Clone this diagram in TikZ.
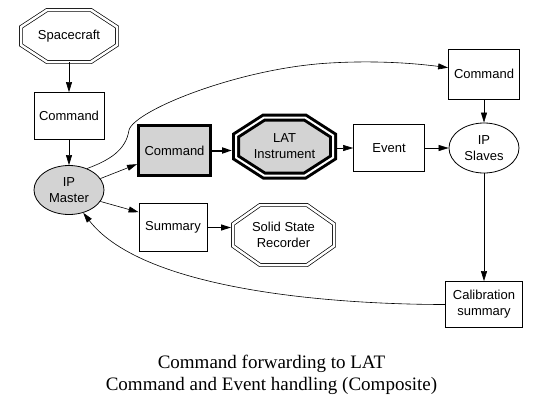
\documentclass[tikz,border=0pt]{standalone}
\usepackage{fontspec}
\setmainfont{Liberation Sans}
\newfontfamily\captionfont{Liberation Serif}
\usetikzlibrary{shapes.geometric,arrows.meta,backgrounds}
\definecolor{nodegray}{RGB}{211,211,211}

% octagon round a named node: style, node, corner cut x, corner cut y
\newcommand{\octdraw}[4]{%
  \draw[#1] ([xshift=#3]#2.north west) -- ([xshift=-#3]#2.north east)
    -- ([yshift=-#4]#2.north east) -- ([yshift=#4]#2.south east)
    -- ([xshift=-#3]#2.south east) -- ([xshift=#3]#2.south west)
    -- ([yshift=#4]#2.south west) -- ([yshift=-#4]#2.north west) -- cycle;}

\begin{document}
\begin{tikzpicture}[
        x=1pt, y=1pt,
        every node/.style={font=\fontsize{13}{16}\selectfont, align=center, inner sep=0pt},
        boxnode/.style={draw, rectangle, line width=0.8pt},
        ovalnode/.style={draw, ellipse, line width=0.8pt},
        octnode/.style={rectangle, outer sep=0pt},
        octline/.style={line width=0.7pt, double, double distance=2.5pt},
        thickline/.style={line width=3pt, double, double distance=2pt, fill=nodegray},
        arr/.style={-{Triangle[length=10pt,width=6pt]}, line width=0.6pt},
        bigarr/.style={-{Triangle[length=10pt,width=6pt]}, line width=2pt}
      ]
      \useasboundingbox (0,0) rectangle (543,-407);
      % left column
      \node[octnode, minimum width=96pt, minimum height=52pt] (craft) at (69,-36) {Spacecraft};
      \node[boxnode, minimum width=70pt, minimum height=47pt] (cmdA) at (69,-116) {Command};
      \node[ovalnode, fill=nodegray, minimum width=70pt, minimum height=49pt] (master) at (69,-190) {IP\\Master};
      % middle row
      \node[boxnode, line width=3pt, fill=nodegray, minimum width=72pt, minimum height=50pt] (cmdB) at (174.5,-150.5) {Command};
      \node[octnode, minimum width=97pt, minimum height=58pt] (lat) at (284.5,-146.5) {LAT\\Instrument};
      \node[boxnode, minimum width=71pt, minimum height=47pt] (event) at (389,-148) {Event};
      \node[ovalnode, minimum width=70pt, minimum height=50pt] (slaves) at (484,-148) {IP\\Slaves};
      \node[boxnode, minimum width=71pt, minimum height=50pt] (cmdC) at (484,-74) {Command};
      % lower row
      \node[boxnode, minimum width=68pt, minimum height=48pt] (summary) at (173,-227.5) {Summary};
      \node[octnode, minimum width=101pt, minimum height=60pt] (ssr) at (283.5,-235) {Solid State\\Recorder};
      \node[boxnode, minimum width=77pt, minimum height=46pt] (calib) at (484,-304.5) {Calibration\\summary};
      \node[font=\captionfont\fontsize{19}{22}\selectfont] (caption) at (271.5,-375)
        {Command forwarding to LAT\\Command and Event handling (Composite)};

      \begin{scope}[on background layer]
        \octdraw{octline}{craft}{26pt}{17pt}
        \octdraw{thickline}{lat}{28pt}{18pt}
        \octdraw{octline}{ssr}{27pt}{19pt}
      \end{scope}

      \draw[arr] (craft) -- (cmdA);
      \draw[arr] (cmdA) -- (master);
      \draw[arr] (master.20) -- (cmdB.200);
      \draw[arr] (master.-20) -- (summary.156);
      \draw[bigarr] (cmdB) -- ([xshift=-4pt]lat.west |- cmdB);
      \draw[arr] ([xshift=4pt]lat.east |- event) -- (event);
      \draw[arr] (event) -- (slaves);
      \draw[arr] (cmdC) -- (slaves);
      \draw[arr] (slaves) -- (calib);
      \draw[arr, line width=1.2pt] (summary) -- ([xshift=-2pt]ssr.west |- summary);
      % long curved connectors
      \coordinate (bendA) at (129,-130);
      \coordinate (bendB) at (330,-63);
      \draw[arr] (master.50) .. controls (110,-160) and (126,-150) .. (bendA)
        .. controls (135,-110) and (240,-68) .. (bendB)
        .. controls (380,-60) and (420,-64) .. (cmdC.170);
      \draw[arr] (calib.west) .. controls +(-100,0) and +(62,-80) .. (master.-58);
    \end{tikzpicture}
\end{document}
